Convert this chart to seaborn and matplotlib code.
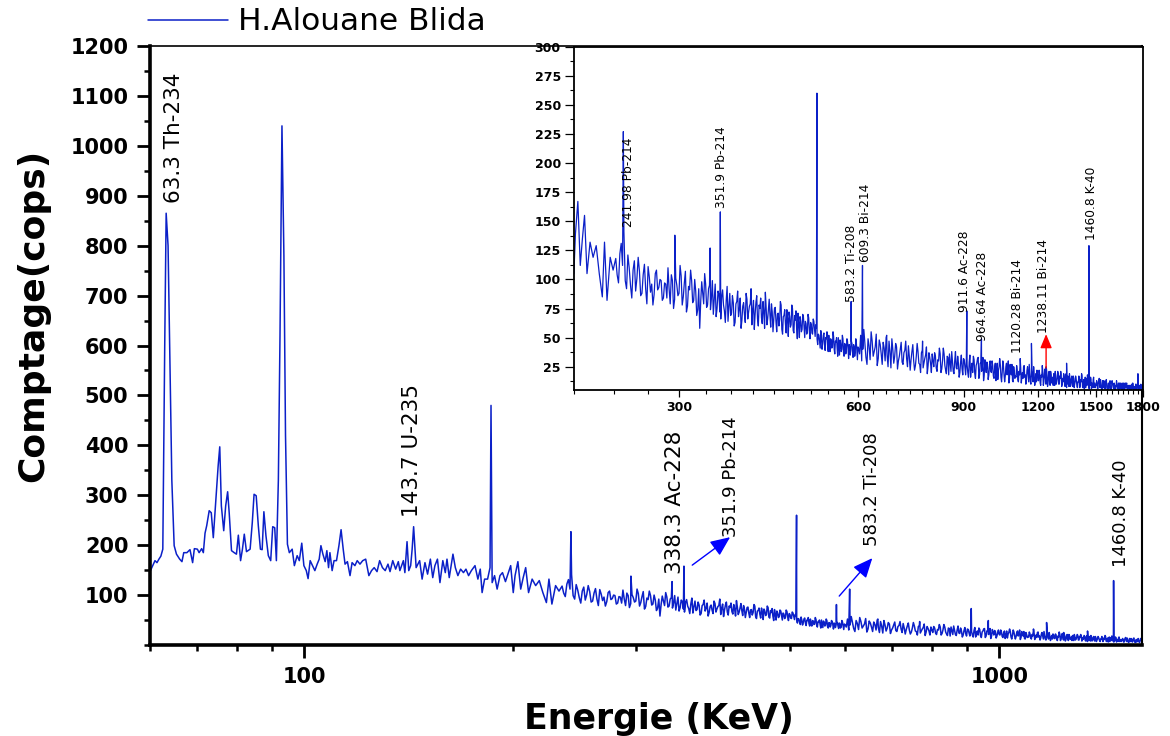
import numpy as np
import pandas as pd
import matplotlib
matplotlib.use("Agg")
import matplotlib.pyplot as plt
import matplotlib.ticker as mticker
import seaborn as sns

# ---------------------------------------------------------------- data
# Low-energy part of the gamma spectrum (keV, counts)
energy_low = [60.0, 60.5, 61.0, 61.4, 61.8, 62.2, 62.6, 63.0, 63.3, 63.7, 64.1, 64.5, 65.0,
              65.5, 66.2, 66.7, 67.1, 67.8, 68.5, 69.1, 69.5, 70.2, 70.6, 71.2, 71.6, 72.0,
              72.4, 73.0, 73.5, 74.0, 74.7, 75.2, 75.6, 76.0, 76.6, 77.1, 77.6, 78.0, 78.6,
              79.3, 79.9, 80.4, 81.0, 81.5, 82.0, 82.6, 83.6, 84.2, 84.7, 85.3, 85.9, 86.5,
              87.0, 87.5, 88.1, 88.8, 89.5, 90.1, 90.7, 91.2, 91.8, 92.3, 92.9, 93.5, 94.0,
              94.6, 95.2, 96.1, 96.8, 97.7, 98.4, 99.2, 99.9, 100.7, 101.3, 102.0, 102.8,
              103.6, 104.4, 105.1, 105.7, 106.4, 107.2, 107.8, 108.4, 108.9, 109.7, 110.4,
              111.3, 112.2, 113.0, 113.8, 114.5, 115.4, 116.4, 117.2, 118.3, 119.2, 120.3,
              121.4, 122.6, 123.9, 125.0, 126.1, 127.3, 128.4, 129.6, 130.8, 132.0, 132.9,
              134.1, 135.4, 136.6, 137.3, 138.9, 139.6, 140.6, 141.4, 142.3, 143.0, 143.7,
              144.4, 144.9, 146.6, 147.8, 149.2, 150.5, 151.9, 153.1, 154.2, 155.5, 156.8,
              158.3, 159.6, 160.5, 161.7, 162.7, 163.7, 165.0, 166.4, 167.9, 169.5, 170.9,
              172.4, 174.0, 176.1, 177.8, 179.2, 180.3, 181.8, 183.6, 185.1, 185.7, 186.4,
              187.9, 189.5, 191.3, 192.9, 194.8, 196.4, 198.2, 199.9, 201.1, 203.0, 204.9,
              206.6, 208.3, 210.3, 212.8, 215.3, 217.9, 220.5, 223.1, 225.0, 227.2, 230.0,
              232.6]
counts_low = [147, 158, 169, 165, 172, 178, 192, 600, 865, 800, 560, 330, 199,
              182, 172, 167, 185, 185, 191, 165, 193, 192, 185, 193, 185, 224,
              239, 269, 265, 215, 299, 359, 397, 279, 229, 279, 307, 265, 189,
              185, 182, 220, 169, 192, 222, 187, 192, 245, 302, 299, 239, 192,
              191, 267, 219, 179, 169, 237, 235, 169, 330, 620, 1040, 780, 420,
              202, 185, 192, 159, 179, 169, 204, 159, 149, 133, 169, 159,
              149, 162, 172, 199, 182, 167, 189, 155, 185, 149, 169,
              169, 199, 231, 192, 162, 167, 139, 165, 159, 169, 162,
              169, 172, 139, 149, 155, 147, 169, 155, 149, 162, 147,
              169, 152, 167, 149, 169, 145, 207, 149, 159, 192, 237,
              190, 155, 169, 132, 165, 142, 172, 135, 159, 172, 125,
              169, 145, 172, 135, 159, 182, 155, 139, 152, 145, 152,
              139, 149, 159, 132, 152, 105, 132, 132, 155, 480, 125,
              139, 112, 139, 145, 127, 142, 159, 105, 139, 167, 112,
              135, 155, 105, 132, 119, 129, 105, 85, 132, 82, 119,
              108]

# Continuum from 235 keV, one reading every 1.25 keV
start_a, step_a = 235.0, 1.25
counts_a = [118, 104, 97, 122, 131, 112, 141, 99, 92, 121, 110, 95, 84, 108, 116, 90, 101, 119, 107, 86,
            88, 104, 113, 92, 79, 111, 102, 89, 96, 78, 87, 105, 108, 91, 93, 100, 99, 82, 84, 97,
            96, 84, 110, 92, 79, 104, 99, 75, 83, 101, 95, 86, 88, 112, 103, 78, 85, 97, 107, 72,
            77, 94, 91, 108, 99, 80, 82, 100, 90, 69, 74, 92, 58, 81, 98, 88, 79, 105, 96, 76,
            78, 92, 95, 74, 84, 99, 70, 83, 96, 68, 75, 90, 87, 72, 66, 85, 91, 78, 73, 63,
            82, 94, 64, 77, 88, 69, 71, 86, 80, 60, 63, 79, 81, 90, 68, 74, 84, 58, 65, 77,
            80, 70, 63, 88, 83, 66, 72, 77, 79, 92, 61, 74, 82, 57, 70, 80, 86, 66, 60, 78,
            75, 84, 67, 62, 81, 72, 58, 89, 76, 61, 66, 74, 83, 69, 59, 79, 72, 55, 65, 75,
            76, 64, 55, 70, 71, 60, 65, 81, 78, 57, 53, 68, 69, 74, 62, 54, 74, 66, 51, 72,
            68, 59, 61, 78, 75, 56, 54, 69, 65, 73, 58, 49, 71, 62, 50, 68, 64, 55, 57, 70,
            68, 59, 50, 64, 62, 53, 55, 70, 67, 56, 49, 63, 61, 54, 53, 66, 64, 57, 51, 61,
            58, 49, 44, 53, 52, 46, 41, 56, 50, 40, 45, 52, 54, 44, 39, 50, 49, 55, 43, 38,
            52, 43, 38, 49, 48, 41, 42, 55, 51, 40, 36, 47, 46, 50, 41, 34, 50, 43, 35, 48,
            45, 38, 40, 52, 49, 37, 34, 45, 44, 36, 39, 49, 47, 41, 32, 44, 42, 35, 40, 47,
            45, 38, 33, 44, 42, 34, 37, 49, 46, 39, 31, 42, 41]

# Continuum from 602.5 keV, one reading every 2.5 keV
start_b, step_b = 602.5, 2.5
counts_b = [36, 52, 30, 40, 57, 45, 33, 27, 49, 43, 31, 55, 47, 34, 38, 42, 53, 26, 32, 48,
            44, 36, 27, 46, 41, 30, 50, 35, 25, 47, 38, 24, 49, 40, 28, 34, 45, 42, 23, 30,
            34, 40, 46, 29, 27, 37, 39, 47, 32, 25, 43, 34, 22, 31, 38, 44, 30, 22, 26, 34,
            45, 38, 28, 27, 20, 37, 39, 24, 28, 32, 35, 42, 19, 26, 37, 33, 28, 20, 36, 30,
            25, 37, 34, 24, 21, 31, 30, 41, 36, 20, 23, 30, 41, 36, 26, 22, 19, 34, 33, 18,
            36, 28, 21, 38, 30, 21, 19, 30, 38, 24, 23, 34, 28, 16, 20, 29, 35, 23, 18, 32,
            31, 24, 18, 32, 27, 20, 16, 29, 35, 16, 23, 28, 20, 34, 31, 19, 15, 26, 28, 32,
            33, 15, 18, 28, 28, 21, 23, 33, 13, 18, 31, 26, 20, 29, 27, 14, 18, 25, 30, 21,
            20, 30, 26, 17, 15, 24, 28, 13, 19, 28, 14, 22, 25, 32, 27, 16, 12, 20, 30, 26,
            18, 12, 17, 25, 28, 18, 22, 30, 11, 15, 27, 22, 18, 27, 13, 12, 25, 21, 15, 17,
            16, 26, 22, 14, 12, 21, 18, 28, 24, 11, 16, 20, 15, 25, 26, 16, 18, 10, 14, 22,
            25, 18, 12, 27, 20, 12, 10, 20, 22, 16, 12, 25, 18, 9, 13, 19, 12, 22, 20, 13,
            13, 22, 19, 11, 9, 18, 16, 26, 21, 9, 12, 19, 23, 15, 10, 23, 18, 8, 11, 18,
            21, 12, 9, 21, 18, 11, 12, 16, 9, 19, 16, 9, 21, 17, 10, 12, 15, 21, 19, 10,
            10, 17, 15, 21, 18, 8, 10, 15, 12, 19, 17, 9, 8, 17, 19, 7, 10, 15, 17, 11,
            8, 19, 15, 8, 11, 15, 17, 9, 8, 17, 15, 7, 10, 12, 17, 15, 12, 8, 7, 12,
            12, 17, 14, 7, 9, 14, 12, 19, 17, 8, 7, 12, 14, 6, 9, 16, 7, 12, 15, 9,
            18, 14, 12, 7, 6, 12, 9, 16, 14, 6, 11, 9, 7, 14, 16, 7, 9, 11, 7, 9,
            9, 13, 11, 6, 6, 11, 13, 15, 10, 7, 14, 11, 7, 5, 6, 13, 11, 7, 13, 11,
            7, 6, 11, 13, 14, 7, 6, 5, 9, 11, 6, 9, 11, 13, 7, 6, 5, 9, 13, 10,
            10, 7, 6, 11, 8, 5, 5, 9, 8, 13, 10, 6, 6, 8, 11, 5, 7, 11, 9, 6,
            11, 8, 6, 5, 5, 11, 9, 6, 11, 5, 5, 8, 11, 7, 9, 11, 6, 5, 7, 9,
            6, 8, 9, 6, 5, 9, 8, 5, 10, 7, 6, 11, 9, 5, 6, 7, 8, 5, 6, 10,
            10, 6, 5, 8, 7, 11, 9, 5, 6, 8, 9, 6, 7, 10, 5, 6, 9, 7, 6, 12]

# Photopeak apexes above 235 keV
peak_energy = [241.98, 295.2, 338.3, 351.9, 511.0, 583.2, 609.3, 669.0, 768.4,
               911.6, 964.64, 1120.28, 1170.0, 1238.11, 1340.0, 1460.8, 1765.0]
peak_counts = [227, 138, 127, 158, 260, 81, 112, 52, 47,
               73, 49, 32, 45, 25, 28, 129, 19]

series_name = "H.Alouane Blida"
x_title = "Energie (KeV)"
y_title = "Comptage(cops)"

main_labels = ["63.3 Th-234", "143.7 U-235", "338.3 Ac-228",
               "351.9 Pb-214", "583.2 Ti-208", "1460.8 K-40"]
inset_labels = ["241.98 Pb-214", "351.9 Pb-214", "583.2 Ti-208", "609.3 Bi-214",
                "911.6 Ac-228", "964.64 Ac-228", "1120.28 Bi-214", "1238.11 Bi-214",
                "1460.8 K-40"]

main_xticks = [100, 1000]
inset_xticks = [300, 600, 900, 1200, 1500, 1800]

# ---------------------------------------------------------------- spectrum table
energy_a = start_a + step_a * np.arange(len(counts_a))
energy_b = start_b + step_b * np.arange(len(counts_b))
spectrum = pd.DataFrame({
    "energy": np.concatenate([energy_low, energy_a, energy_b, peak_energy]),
    "counts": np.concatenate([counts_low, counts_a, counts_b, peak_counts]),
}).sort_values("energy").reset_index(drop=True)

# ---------------------------------------------------------------- style
sns.set_style("ticks")
plt.rcParams["font.family"] = ["DejaVu Sans"]
plt.rcParams["font.weight"] = "bold"
plt.rcParams["axes.labelweight"] = "bold"
for key in ("text.color", "axes.labelcolor", "xtick.color", "ytick.color",
            "axes.edgecolor"):
    plt.rcParams[key] = "black"

LINE = "#0b20c8"
W, H = 1170, 736

fig = plt.figure(figsize=(W / 100, H / 100), dpi=100)
fig.patch.set_facecolor("white")


def frac(left, top, right, bottom):
    return [left / W, 1 - bottom / H, (right - left) / W, (bottom - top) / H]


# ---------------------------------------------------------------- main axes
ax = fig.add_axes(frac(150, 46, 1142, 645))
sns.lineplot(data=spectrum, x="energy", y="counts", ax=ax, color=LINE,
             linewidth=1.1, estimator=None, sort=False, errorbar=None)
ax.set_xscale("log")
ax.set_xlim(60, 1605)
ax.set_ylim(0, 1200)

ax.xaxis.set_major_locator(mticker.FixedLocator(main_xticks))
ax.xaxis.set_minor_locator(mticker.LogLocator(base=10, subs=np.arange(2, 10)))
ax.xaxis.set_major_formatter(mticker.FuncFormatter(lambda v, p: f"{v:g}"))
ax.xaxis.set_minor_formatter(mticker.NullFormatter())
ax.set_yticks(np.arange(100, 1201, 100))
ax.yaxis.set_minor_locator(mticker.MultipleLocator(50))

ax.tick_params(which="major", direction="out", length=9.5, width=2.0,
               labelsize=15, pad=6, colors="black")
ax.tick_params(which="minor", direction="out", length=4.5, width=1.8)
for side, lw in (("left", 2.6), ("bottom", 2.6), ("top", 1.2), ("right", 1.5)):
    ax.spines[side].set_linewidth(lw)
    ax.spines[side].set_color("black")

ax.set_xlabel(x_title, fontsize=25, fontweight="bold", color="black")
ax.set_ylabel(y_title, fontsize=26, fontweight="bold", color="black")
ax.xaxis.set_label_coords(0.513, -0.095)
ax.yaxis.set_label_coords(-0.101, 0.551)

# rotated peak labels: (x, y, size)
main_label_pos = [(65.0, 886, 15.5), (143.0, 256, 15.5), (341.9, 142, 15.5),
                  (411.6, 216, 13), (656.8, 198, 13), (1498, 156, 13)]
for text, (x, y, fs) in zip(main_labels, main_label_pos):
    ax.text(x, y, text, rotation=90, ha="center", va="bottom",
            fontsize=fs, fontweight="normal", color="black")

arrow_kw = dict(arrowstyle="-|>,head_length=0.8,head_width=0.35", color="#0000ff",
                lw=1.0, mutation_scale=15, shrinkA=0, shrinkB=0)
ax.annotate("", xy=(410, 216), xytext=(361.7, 160), arrowprops=arrow_kw)
ax.annotate("", xy=(656.8, 174), xytext=(588.6, 98), arrowprops=arrow_kw)

line_handle = ax.get_lines()[0]
fig.legend(handles=[line_handle], labels=[series_name], loc="center left",
           bbox_to_anchor=(148 / W, 1 - 22 / H), frameon=False, borderpad=0,
           borderaxespad=0, handlelength=2.55, handletextpad=0.33,
           prop={"size": 22.5, "weight": "normal"}, labelcolor="black")

# ---------------------------------------------------------------- inset axes
ax_in = fig.add_axes(frac(574, 46.6, 1143, 390))
ax_in.set_facecolor("white")
sns.lineplot(data=spectrum, x="energy", y="counts", ax=ax_in, color=LINE,
             linewidth=0.9, estimator=None, sort=False, errorbar=None)
ax_in.set_xscale("log")
ax_in.set_xlim(200, 1800)
ax_in.set_ylim(5, 300)
ax_in.set_xlabel("")
ax_in.set_ylabel("")

ax_in.xaxis.set_major_locator(mticker.FixedLocator(inset_xticks))
ax_in.xaxis.set_major_formatter(mticker.FuncFormatter(lambda v, p: f"{v:g}"))
minor_in = [v for v in np.arange(200, 1800.1, 100 / 3)
            if min(abs(v - t) for t in inset_xticks) > 1]
ax_in.xaxis.set_minor_locator(mticker.FixedLocator(minor_in))
ax_in.xaxis.set_minor_formatter(mticker.NullFormatter())
ax_in.set_yticks(np.arange(25, 301, 25))
ax_in.yaxis.set_minor_locator(mticker.MultipleLocator(12.5))
ax_in.tick_params(which="major", direction="out", length=5, width=0.9,
                  labelsize=9, pad=3, colors="black")
ax_in.tick_params(axis="y", which="major", length=6.5)
ax_in.tick_params(which="minor", direction="out", length=3, width=0.8)
for side in ("left", "bottom", "top", "right"):
    ax_in.spines[side].set_linewidth(1.3)
    ax_in.spines[side].set_color("black")

inset_label_pos = [(246.4, 145), (354, 161), (583, 80.5), (615.6, 115), (902, 72),
                   (967.6, 47), (1107, 36.8), (1224, 54), (1474, 133.8)]
for text, (x, y) in zip(inset_labels, inset_label_pos):
    ax_in.text(x, y, text, rotation=90, ha="center", va="bottom",
               fontsize=8.8, fontweight="normal", color="black")

ax_in.annotate("", xy=(1238.11, 53), xytext=(1238.11, 24),
               arrowprops=dict(arrowstyle="-|>,head_length=0.6,head_width=0.25",
                               color="#ff0000", lw=1.0, mutation_scale=14,
                               shrinkA=0, shrinkB=0))

fig.savefig("out.png", dpi=100, facecolor="white")
